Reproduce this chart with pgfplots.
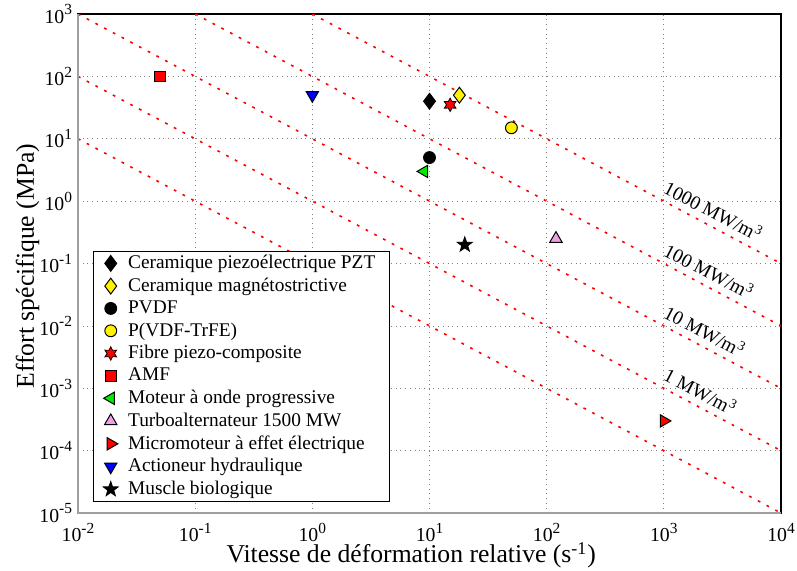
\documentclass[border=0pt]{standalone}
\usepackage{fontspec}
\setmainfont{Liberation Serif}
\usepackage{pgfplots}
\pgfplotsset{compat=1.18}
\usetikzlibrary{plotmarks}

\definecolor{mgreen}{RGB}{0,235,0}
\definecolor{mpink}{RGB}{238,160,230}

\newcommand{\tsup}[1]{\raisebox{0.42em}{\fontsize{7.8}{8}\selectfont #1}}

% filled five-point star
\pgfdeclareplotmark{fstar}{%
  \pgfpathmoveto{\pgfpointpolar{90}{\pgfplotmarksize}}%
  \pgfpathlineto{\pgfpointpolar{126}{0.40\pgfplotmarksize}}%
  \pgfpathlineto{\pgfpointpolar{162}{\pgfplotmarksize}}%
  \pgfpathlineto{\pgfpointpolar{198}{0.40\pgfplotmarksize}}%
  \pgfpathlineto{\pgfpointpolar{234}{\pgfplotmarksize}}%
  \pgfpathlineto{\pgfpointpolar{270}{0.40\pgfplotmarksize}}%
  \pgfpathlineto{\pgfpointpolar{306}{\pgfplotmarksize}}%
  \pgfpathlineto{\pgfpointpolar{342}{0.40\pgfplotmarksize}}%
  \pgfpathlineto{\pgfpointpolar{18}{\pgfplotmarksize}}%
  \pgfpathlineto{\pgfpointpolar{54}{0.40\pgfplotmarksize}}%
  \pgfpathclose
  \pgfusepathqfillstroke}

% filled six-point star
\pgfdeclareplotmark{hstar}{%
  \pgfpathmoveto{\pgfpointpolar{90}{\pgfplotmarksize}}%
  \pgfpathlineto{\pgfpointpolar{120}{0.55\pgfplotmarksize}}%
  \pgfpathlineto{\pgfpointpolar{150}{\pgfplotmarksize}}%
  \pgfpathlineto{\pgfpointpolar{180}{0.55\pgfplotmarksize}}%
  \pgfpathlineto{\pgfpointpolar{210}{\pgfplotmarksize}}%
  \pgfpathlineto{\pgfpointpolar{240}{0.55\pgfplotmarksize}}%
  \pgfpathlineto{\pgfpointpolar{270}{\pgfplotmarksize}}%
  \pgfpathlineto{\pgfpointpolar{300}{0.55\pgfplotmarksize}}%
  \pgfpathlineto{\pgfpointpolar{330}{\pgfplotmarksize}}%
  \pgfpathlineto{\pgfpointpolar{0}{0.55\pgfplotmarksize}}%
  \pgfpathlineto{\pgfpointpolar{30}{\pgfplotmarksize}}%
  \pgfpathlineto{\pgfpointpolar{60}{0.55\pgfplotmarksize}}%
  \pgfpathclose
  \pgfusepathqfillstroke}

\begin{document}
\begin{tikzpicture}
\begin{axis}[
    scale only axis,
    width=356pt, height=252.7pt,
    xmode=log, ymode=log,
    log basis x=10, log basis y=10,
    xmin=1e-2, xmax=1e4, ymin=1e-5, ymax=1e3,
    xtick={1e-2,1e-1,1,10,100,1000,10000},
    ytick={1e-5,1e-4,1e-3,1e-2,1e-1,1,10,100,1000},
    xticklabel={10\tsup{\pgfmathparse{int(round(\tick))}\pgfmathresult}},
    yticklabel={10\tsup{\pgfmathparse{int(round(\tick))}\pgfmathresult}},
    minor tick num=0,
    major tick length=0pt,
    grid=major,
    major grid style={dotted, gray, line width=0.4pt},
    axis line style={black, line width=0.6pt},
    tick label style={font=\fontsize{10}{11}\selectfont},
    xticklabel style={yshift=-1.5pt},
    yticklabel style={xshift=0.5pt},
    label style={font=\fontsize{13}{15}\selectfont},
    xlabel={Vitesse de déformation relative (s\textsuperscript{-1})},
    ylabel={Effort spécifique (MPa)},
    xlabel style={at={(axis description cs:0.474,-0.1)}, anchor=base},
    ylabel style={at={(axis description cs:-0.0626,0.495)}, anchor=base, rotate=0},
    legend cell align=left,
    legend style={at={(0.021,0.022)}, anchor=south west, draw=black,
        line width=0.6pt, font=\fontsize{9.8}{11}\selectfont,
        row sep=-0.8pt, column sep=3pt, inner xsep=5pt, inner ysep=0pt},
    after end axis/.code={
        \draw[gray!75, line width=1.2pt] (rel axis cs:0,1) -- (rel axis cs:0,0) -- (rel axis cs:1,0);
    },
]
% lines of constant power density
\addplot[red, line width=0.8pt, dash pattern=on 1.4pt off 3.6pt, forget plot] coordinates {(1,1000) (10000,0.1)};
\addplot[red, line width=0.8pt, dash pattern=on 1.4pt off 3.6pt, forget plot] coordinates {(0.1,1000) (10000,0.01)};
\addplot[red, line width=0.8pt, dash pattern=on 1.4pt off 3.6pt, forget plot] coordinates {(0.01,1000) (10000,0.001)};
\addplot[red, line width=0.8pt, dash pattern=on 1.4pt off 3.6pt, forget plot] coordinates {(0.01,100) (10000,0.0001)};
\addplot[red, line width=0.8pt, dash pattern=on 1.4pt off 3.6pt, forget plot] coordinates {(0.01,10) (10000,0.00001)};

\node[rotate=-27.7, anchor=west, font=\fontsize{9.8}{11}\selectfont] at (axis cs:925,2) {1000 MW/m\textsuperscript{3}};
\node[rotate=-27.7, anchor=west, font=\fontsize{9.8}{11}\selectfont] at (axis cs:925,0.2) {100 MW/m\textsuperscript{3}};
\node[rotate=-27.7, anchor=west, font=\fontsize{9.8}{11}\selectfont] at (axis cs:925,0.02) {10 MW/m\textsuperscript{3}};
\node[rotate=-27.7, anchor=west, font=\fontsize{9.8}{11}\selectfont] at (axis cs:925,0.002) {1 MW/m\textsuperscript{3}};

\addplot[only marks, mark=diamond*, mark size=4pt, mark options={fill=black, draw=black, line width=0.5pt}] coordinates {(10,40)};
\addlegendentry{Ceramique piezoélectrique PZT}
\addplot[only marks, mark=diamond*, mark size=4pt, mark options={fill=yellow, draw=black, line width=0.5pt}] coordinates {(18,50)};
\addlegendentry{Ceramique magnétostrictive}
\addplot[only marks, mark=*, mark size=3pt, mark options={fill=black, draw=black, line width=0.5pt}] coordinates {(10,5)};
\addlegendentry{PVDF}
\addplot[only marks, mark=*, mark size=3pt, mark options={fill=yellow, draw=black, line width=0.5pt}] coordinates {(50,15)};
\addlegendentry{P(VDF-TrFE)}
\addplot[only marks, mark=hstar, mark size=3.4pt, mark options={fill=red, draw=black, line width=0.4pt}] coordinates {(15,35)};
\addlegendentry{Fibre piezo-composite}
\addplot[only marks, mark=square*, mark size=2.7pt, mark options={fill=red, draw=black, line width=0.5pt}] coordinates {(0.05,100)};
\addlegendentry{AMF}
\addplot[only marks, mark=triangle*, mark size=3.6pt, mark options={fill=mgreen, draw=black, line width=0.5pt, rotate=90}] coordinates {(9,3)};
\addlegendentry{Moteur à onde progressive}
\addplot[only marks, mark=triangle*, mark size=3.6pt, mark options={fill=mpink, draw=black, line width=0.5pt}] coordinates {(120,0.25)};
\addlegendentry{Turboalternateur 1500 MW}
\addplot[only marks, mark=triangle*, mark size=3.6pt, mark options={fill=red, draw=black, line width=0.5pt, rotate=-90}] coordinates {(1000,0.0003)};
\addlegendentry{Micromoteur à effet électrique}
\addplot[only marks, mark=triangle*, mark size=3.6pt, mark options={fill=blue, draw=black, line width=0.5pt, rotate=180}] coordinates {(1,50)};
\addlegendentry{Actioneur hydraulique}
\addplot[only marks, mark=fstar, mark size=4pt, mark options={fill=black, draw=black, line width=0.4pt}] coordinates {(20,0.2)};
\addlegendentry{Muscle biologique}
\end{axis}
\pgfresetboundingbox
\useasboundingbox ([xshift=-39.5pt,yshift=-28.9pt]current axis.south west) rectangle ([xshift=8.1pt,yshift=7.1pt]current axis.north east);
\end{tikzpicture}
\end{document}
